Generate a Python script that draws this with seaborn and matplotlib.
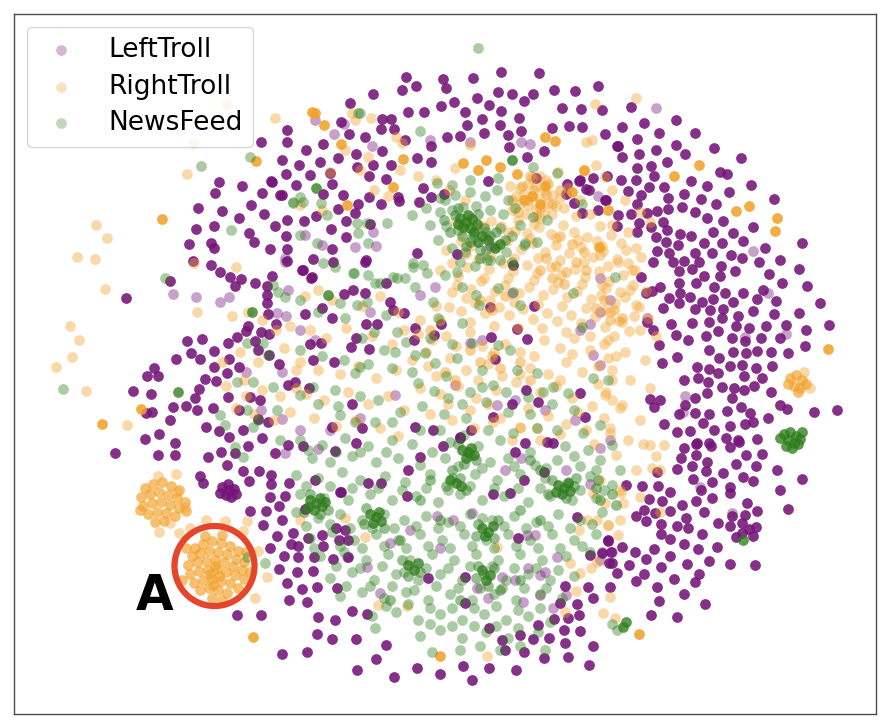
import numpy as np
import matplotlib
matplotlib.use("Agg")
import matplotlib.pyplot as plt
import seaborn as sns
from matplotlib.patches import Circle

# embedding coordinates (x to the right, y downwards)
categories = ["LeftTroll", "RightTroll", "NewsFeed"]

# LeftTroll: dense (stacked duplicates) and sparse points
left_dense = [
    (406,77),(443,79),(473,78),(501,72),(539,73),(416,86),(446,88),(402,90),(373,94),(498,92),(512,94),(533,94),
    (554,90),(575,91),(598,86),(477,98),(454,102),(441,106),(489,105),(524,101),(350,103),(341,122),(408,112),
    (424,112),(465,112),(501,111),(562,108),(581,109),(602,110),(382,119),(391,119),(482,119),(519,118),(467,125),
    (500,125),(552,128),(569,126),(582,127),(287,130),(381,129),(394,129),(349,134),(365,137),(447,137),(460,136),
    (484,133),(508,135),(521,131),(605,134),(287,142),(323,144),(405,140),(431,146),(509,147),(544,151),(617,146),
    (306,150),(356,154),(382,151),(338,158),(417,158),(431,162),(527,157),(282,160),(299,165),(320,162),(357,167),
    (373,165),(391,165),(286,174),(310,175),(330,173),(369,176),(386,179),(488,181),(536,178),(567,184),(579,181),
    (593,178),(607,176),(296,185),(332,184),(423,188),(586,189),(282,195),(323,194),(343,195),(369,197),(398,197),
    (419,202),(431,197),(444,194),(566,194),(574,203),(606,200),(358,204),(381,204),(399,201),(338,209),(355,213),
    (582,213),(287,220),(316,216),(304,221),(346,221),(331,229),(370,224),(286,236),(346,237),(366,260),(332,249),
    (313,259),(287,249),(287,261),(302,270),(311,278),(417,253),(457,254),(261,142),(271,181),
    (631,107),(622,127),(644,123),(676,120),(659,133),(695,133),(637,139),(618,146),(676,145),(714,148),(622,157),
    (639,154),(656,150),(685,154),(741,158),(637,168),(651,166),(667,162),(720,172),(727,174),(580,180),(621,180),
    (636,180),(654,176),(691,181),(589,190),(628,191),(649,187),(664,187),(707,186),(751,185),(605,200),(641,195),
    (668,198),(684,194),(701,199),(729,192),(637,204),(657,211),(668,209),(682,207),(716,204),(774,199),(598,210),
    (618,215),(631,214),(647,213),(695,212),(707,218),(723,221),(753,227),(617,226),(639,223),(651,227),(663,222),
    (637,232),(667,230),(680,234),(691,236),(713,232),(733,233),(743,241),(656,237),(666,242),(678,245),(704,243),
    (722,243),(765,248),(802,243),(657,251),(669,253),(695,253),(712,253),(731,255),(742,258),(759,262),(780,260),
    (799,269),(653,262),(673,262),(684,261),(699,262),(679,271),(692,269),(704,276),(721,266),(735,271),(720,276),
    (769,274),(641,277),
    (652,291),(646,293),(660,287),(679,283),(696,283),(714,287),(725,293),(743,293),(763,290),(782,283),(807,286),
    (669,298),(680,293),(690,297),(702,302),(713,299),(733,302),(757,299),(776,301),(820,303),(663,308),(679,303),
    (695,309),(710,310),(723,309),(738,316),(753,311),(774,314),(799,313),(647,322),(671,324),(692,323),(709,322),
    (722,318),(736,326),(749,328),(766,326),(786,325),(806,330),(829,325),(653,330),(676,335),(688,340),(706,336),
    (718,331),(732,338),(745,341),(761,338),(780,338),(659,345),(709,350),(719,358),(733,352),(746,353),(757,351),
    (771,352),(788,353),(805,346),(662,363),(677,357),(697,367),(709,369),(730,366),(742,365),(756,368),(772,366),
    (684,380),(698,378),(708,382),(718,373),(734,388),(744,376),(754,386),(762,378),(650,399),(660,400),(685,405),
    (695,398),(707,393),(722,387),(732,398),(744,390),(771,392),(780,405),(787,409),(814,412),(837,410),(654,407),
    (679,414),(695,413),(709,414),(727,411),(741,407),(750,413),(664,424),(690,431),(703,423),(714,430),(730,426),
    (745,424),(753,422),(768,418),(677,432),(697,443),(709,443),(726,438),(738,440),(757,439),
    (684,448),(696,444),(711,446),(730,447),(739,442),(681,458),(696,455),(707,462),(736,464),(746,455),(762,454),
    (677,469),(692,466),(706,471),(723,473),(756,466),(777,470),(802,479),(657,472),(693,479),(712,482),(743,477),
    (753,481),(626,485),(642,486),(658,486),(670,492),(701,490),(730,487),(730,493),(780,490),(649,499),(662,501),
    (682,505),(696,501),(712,498),(747,503),(788,509),(644,510),(655,513),(670,511),(704,512),(732,516),(745,515),
    (757,511),(636,516),(646,521),(661,524),(677,526),(688,528),(686,518),(718,523),(730,526),(742,523),(756,527),
    (749,529),(661,534),(670,539),(702,534),(736,537),(742,533),(753,536),(608,540),(622,547),(635,552),(654,549),
    (684,544),(698,549),(717,547),(590,555),(602,553),(611,552),(646,559),(670,556),(609,563),(629,565),(661,567),
    (687,564),(709,561),(730,564),(755,565),(617,573),(644,574),(636,581),(674,579),(699,574),(695,582),(565,586),
    (588,587),(610,587),(657,587),(593,598),(684,594),(560,603),(577,604),(659,601),(705,604),(579,615),(651,615),
    (677,617),(564,630),(580,631),(565,643),(593,646),(568,657),(589,665),
    (289,483),(285,496),(305,509),(282,520),(293,533),(291,544),(308,538),(322,535),(323,546),(336,528),(345,530),
    (339,540),(284,556),(298,557),(314,557),(297,572),(313,571),(287,583),(302,589),(289,600),(307,602),(318,617),
    (335,620),(352,611),(367,614),(317,634),(332,639),(356,639),(386,645),(282,654),(307,652),(376,659),(357,670),
    (394,677),(417,668),(440,674),(463,666),(489,668),(516,670),(472,680),(505,650),(524,652),(544,658),(489,628),
    (520,635),(533,639),(549,638),(502,640),(554,619),(538,625),(568,618),(465,603),(608,541),(612,563),(577,517),
    (428,578),(368,483),(381,483),(341,492),(356,443),(335,451),(303,446),(288,445),(407,496),(415,427),(433,430),
    (443,446),(420,457),(408,470),(460,438),(493,494),(510,493),(515,452),(525,443),(544,472),(524,480),(547,442),
    (553,443),(471,430),(465,577),(518,538),
    (200,476),(203,483),(227,465),(243,471),(259,471),(271,475),(271,484),(249,481),(250,511),(266,511),(270,497),
    (279,506),(263,525),(277,536),(270,548),(333,559),(348,557),(279,569),(317,587),(337,588),(237,615),(261,615),
    (298,546),(348,540),(340,492),(315,480),
    (222,487),(228,484),(234,489),(226,495),(231,497),(220,493),(236,494),(229,490),
    (219,182),(242,186),(215,193),(272,182),(262,193),(280,195),(198,208),(222,211),(251,205),(264,214),(239,218),
    (196,229),(214,226),(249,233),(275,226),(189,244),(211,243),(254,242),(214,248),(270,249),(193,261),(211,265),
    (220,272),(230,277),(241,279),(235,286),(255,283),(272,276),(126,298),(170,281),(267,286),(267,295),(267,303),
    (268,314),(276,324),(248,326),(261,332),(269,334),(246,331),(255,341),(237,337),(228,343),(187,341),(202,339),
    (191,353),(214,351),(200,359),(176,359),(229,359),(239,367),(258,350),(269,355),(279,364),(154,368),(147,376),
    (158,376),(214,367),(216,381),(227,373),(205,379),(133,391),(151,394),(199,389),(195,398),(186,406),(197,410),
    (213,408),(228,397),(239,410),(250,397),(260,400),(146,413),(152,412),(173,407),(170,420),(206,427),(219,431),
    (229,437),(243,430),(258,419),(268,422),(145,439),(159,434),(175,443),(248,446),(262,438),(115,453),(158,455),
    (175,455),(208,457),(221,452),(235,453),(275,453),
    (312,277),(303,270),(333,262),(365,262),(344,294),(353,290),(365,293),(322,308),(305,314),(332,318),(366,324),
    (377,324),(404,313),(390,302),(310,344),(321,343),(351,347),(369,349),(356,338),(334,362),(313,360),(288,385),
    (295,382),(309,388),(352,404),(362,428),(332,427),(415,328),(414,340),(441,324),(491,337),(495,359),(490,307),
    (517,329),(527,339),(534,306),(526,390),(512,404),(580,393),(585,417),(538,402),(493,417),(460,437),(434,335),
    (386,283),(393,310),(513,265),
]
left_sparse = [
    (285,453),(318,449),(347,557),(367,567),(380,593),(390,543),(453,520),(472,513),(527,535),(535,535),(557,557),
    (540,575),(545,572),(502,577),(515,580),(488,598),(477,588),(528,568),(523,602),(540,595),(553,608),(566,595),
    (602,552),(612,552),(300,330),(315,340),(370,312),(420,295),(435,287),(470,343),(482,340),(512,293),(580,330),
    (590,324),(600,312),(610,300),(593,355),(600,365),(575,420),(545,410),(515,400),(497,405),(455,385),(395,395),
    (360,418),(330,430),(300,430),(282,372),(600,448),(610,440),(315,120),(334,134),(344,124),(372,146),(430,140),
    (470,142),(521,142),(530,144),(598,196),(305,235),(322,245),(373,232),(376,246),(285,258),(355,247),(490,246),
    (600,278),(173,294),(196,297),(229,297),(220,302),(285,262),(288,290),(277,313),(286,316),(246,372),(261,410),
    (282,419),(656,108),(753,251),(647,318),(685,396),(683,412),(745,337),(786,334),(768,293),(600,560),(700,487),
    (732,513),(566,470),(521,458),(437,516),(410,530),(440,548),(505,470),(590,484),
]

# RightTroll: single saturated points, two tight clusters, mid-density patches, sparse cloud
right_dense = [
    (312,112),(256,161),(162,219),(102,424),(141,409),(253,637),(699,165),(674,176),(736,211),(749,206),(777,218),
    (775,231),(828,349),(639,634),(315,113),(324,125),(341,144),(403,159),(463,163),(486,160),(478,170),(500,167),
    (517,174),(545,137),(555,141),(584,170),(599,247),(545,186),(572,192),(608,210),(347,205),(393,187),(440,656),
    (532,196),(540,204),(524,200),
]
right_clusters = [
    # cluster A
    (195,548),(203,544),(212,541),(221,543),(230,546),(238,551),(192,556),(200,553),(209,551),(218,552),(227,554),
    (236,559),(244,562),(188,565),(197,562),(206,561),(215,560),(224,562),(233,566),(242,570),(190,574),(199,571),
    (208,570),(217,569),(226,572),(235,575),(244,579),(194,583),(203,580),(212,579),(221,581),(230,583),(238,588),
    (200,590),(209,588),(218,590),(227,593),(212,598),(222,600),(186,548),(246,552),(182,580),(250,572),(205,536),
    (222,535),(215,566),(210,574),(219,576),(213,585),
    # cluster B
    (145,488),(153,484),(162,482),(171,486),(179,490),(141,497),(150,494),(159,492),(168,495),(177,498),(185,502),
    (143,506),(152,503),(161,502),(170,505),(179,508),(148,514),(157,512),(166,513),(175,516),(155,522),(164,521),
    (140,510),(186,511),
    # small right cluster
    (790,378),(796,375),(802,380),(794,386),(800,388),(806,384),(788,384),(798,392),
]
right_mid = [
    (522,186),(534,190),(546,194),(528,200),(540,208),(518,212),(552,204),(536,216),(548,184),(560,190),(530,176),
    (512,200),(546,258),(556,266),(566,272),(552,278),(564,284),(576,262),(586,270),(540,270),(604,300),(614,310),
    (622,318),(610,320),(596,308),(470,350),(480,362),(492,356),(500,368),(520,362),(530,380),(445,372),(455,380),
    (430,330),(440,320),(560,236),(572,244),(584,252),(480,300),(492,310),(505,296),
]
right_sparse = [
    # dense patch upper centre
    (520,188),(528,184),(536,186),(544,190),(552,195),(516,196),(524,194),(532,196),(540,199),(548,203),(556,206),
    (520,204),(528,205),(536,209),(544,212),(512,210),(526,214),(540,218),(552,214),(560,198),(532,178),(546,180),
    (510,186),(518,220),(534,224),
    # large cloud
    (455,222),(468,217),(477,228),(491,221),(501,226),(515,231),(527,233),(539,227),(551,234),(563,225),(574,232),
    (587,237),(597,241),(611,235),(621,243),(636,248),(461,241),(471,246),(485,237),(497,247),(507,241),(521,249),
    (533,243),(545,252),(556,245),(569,253),(581,247),(593,257),(603,251),(617,259),(628,263),(641,257),(452,263),
    (467,267),(478,259),(489,269),(503,263),(513,271),(527,265),(537,273),(551,267),(561,275),(575,269),(585,277),
    (599,271),(609,281),(623,275),(633,285),(646,291),(457,285),(471,289),(481,281),(495,291),(505,285),(519,293),
    (529,287),(543,295),(553,289),(567,297),(577,291),(591,299),(601,295),(615,303),(625,297),(639,307),(449,307),
    (461,311),(475,303),(485,313),(499,307),(509,315),(523,309),(533,319),(547,313),(557,321),(571,315),(581,323),
    (595,317),(605,327),(619,321),(629,331),(648,318),(656,336),
    (462,230),(484,226),(508,232),(530,238),(556,238),(578,240),(602,246),(626,250),(466,254),(490,256),(514,258),
    (538,258),(560,260),(584,262),(608,266),(632,270),(458,276),(484,278),(508,278),(534,280),(558,282),(582,284),
    (606,288),(630,290),(466,298),(490,300),(514,302),(538,304),(562,306),(586,308),(610,312),(634,316),(470,322),
    (494,326),(518,328),(542,328),(566,332),(590,336),(614,336),(426,352),(456,346),(494,352),(534,356),(572,354),
    (608,358),(436,376),(478,380),(520,374),(560,380),(598,384),(448,404),(488,404),(528,408),(578,412),(612,400),
    (512,440),(474,428),(560,434),(594,444),(420,320),(436,306),(452,292),(440,270),(446,250),(540,176),(558,172),
    (568,188),(580,200),(590,214),(600,226),(576,216),(564,208),
    (418,334),(432,340),(446,336),(470,332),(482,346),(505,344),(520,352),(544,340),(560,348),(574,338),(590,350),
    (604,344),(616,356),(412,360),(428,366),(450,358),(466,370),(488,364),(502,376),(530,368),(548,374),(566,362),
    (582,372),(598,366),(612,380),(420,388),(440,394),(458,386),(476,398),(496,390),(516,382),(540,392),(556,386),
    (572,398),(592,406),(606,392),(430,414),(452,420),(470,410),(500,418),(520,428),(548,416),(566,424),(586,430),
    (604,418),(620,408),(540,440),
    # left-centre
    (305,296),(318,290),(332,300),(362,306),(380,296),(398,312),(310,330),(326,338),(346,328),(372,336),(392,344),
    (404,330),(300,362),(318,370),(340,374),(358,366),(376,378),(396,370),(306,394),(324,400),(348,392),(368,404),
    (388,396),(404,410),(314,418),(336,426),(356,420),(380,428),(398,436),(232,316),(248,312),(262,320),(276,330),
    (290,326),(240,352),(258,362),(284,348),(296,370),(226,386),(244,380),(262,390),(280,396),(296,388),(236,408),
    (254,414),(274,420),(290,412),(222,362),(246,396),
    # upper scattered
    (355,120),(371,118),(396,137),(402,143),(345,150),(368,157),(360,170),(400,170),(418,176),(436,180),(449,190),
    (465,200),(374,190),(388,196),(330,172),(470,145),(455,168),(300,205),(322,210),(275,118),(226,104),(193,143),
    (187,174),(595,104),(636,98),(352,113),
    # right fringe
    (586,142),(592,140),(584,171),(596,165),(605,177),(612,190),(625,200),(640,212),(650,222),(612,225),(628,232),
    (600,255),(618,262),(635,270),(602,285),(620,292),(636,305),(605,310),(622,322),(640,330),(608,340),(625,352),
    (645,360),(612,370),(630,380),(650,388),(605,395),(622,405),(640,420),(610,428),(628,440),(650,445),(616,455),
    (636,470),(660,470),(600,480),(620,490),(640,497),(660,512),(620,520),(643,444),(664,445),(656,456),(652,468),
    (621,493),(623,503),(608,525),(618,535),(591,568),(610,597),(603,613),(615,618),(565,612),(576,591),(579,530),
    (804,372),(810,388),
    # around the clusters
    (206,520),(225,521),(247,521),(243,531),(258,551),(267,577),(190,528),(255,598),(158,476),(176,474),(159,532),
    (179,533),(170,523),(185,507),(177,492),
    # far left and lower scattered
    (96,225),(107,238),(77,257),(95,259),(105,289),(70,326),(79,340),(72,357),(56,367),(86,391),(127,425),(197,312),
    (194,263),(236,267),(345,518),(365,537),(407,606),(497,547),(570,563),(580,573),(597,562),(608,525),(597,520),
    (605,503),(587,520),(593,493),(610,433),(537,428),(520,427),(493,422),(487,656),(378,605),(300,520),
]

# NewsFeed
news_dense = [
    (460,218),(466,222),(472,219),(463,227),(470,228),(477,224),(458,224),(474,232),(482,236),(488,240),(478,242),
    (495,248),(500,244),(468,215),(310,500),(316,503),(322,506),(314,510),(320,498),(308,507),(325,502),(370,514),
    (376,517),(381,521),(373,523),(379,512),(462,450),(468,452),(474,455),(466,458),(471,448),(450,480),(456,483),
    (461,486),(558,485),(564,488),(570,491),(562,494),(568,483),(556,492),(482,528),(488,532),(493,526),(485,536),
    (482,570),(490,575),(486,580),(408,565),(414,570),(418,563),(784,434),(790,432),(796,436),(788,440),(794,443),
    (800,439),(786,446),(792,448),(798,444),(780,438),(802,432),(178,392),(252,312),(623,627),(512,160),(316,188),
    (328,295),(743,540),(626,622),
]
news_mid = [
    (455,215),(462,236),(478,214),(484,228),(490,236),(470,242),(458,208),(444,220),(450,232),(496,232),(505,240),
    (466,246),(480,258),(486,250),(310,494),(304,512),(320,514),(328,510),(366,508),(384,528),(364,524),(458,444),
    (476,460),(464,464),(452,470),(446,486),(460,478),(466,490),(552,480),(574,486),(566,498),(576,478),(548,494),
    (478,524),(494,538),(476,536),(498,520),(478,566),(494,568),(488,586),(476,578),(402,560),(420,572),(408,576),
    (530,460),(540,470),(430,480),(440,520),(520,510),(540,520),(420,500),(500,590),(460,600),(520,580),(400,540),
    (390,600),(600,500),(612,494),(596,488),(616,505),(598,480),
]
news_sparse = [
    (478,48),(201,166),(250,157),(165,278),(63,389),(557,173),(533,167),(358,113),(420,131),(300,197),(293,203),
    (321,203),(327,215),(357,223),(367,223),(387,223),(358,233),(368,243),(300,235),(317,243),(323,263),(335,267),
    (353,273),(380,283),(397,278),(413,263),(427,273),(412,215),(426,208),(440,198),(452,185),(437,183),(473,233),
    (487,260),(500,260),(513,265),(525,243),(537,242),(533,217),(547,220),(573,293),(582,204),(615,277),(360,113),
    (445,200),(455,195),(470,192),(485,196),(497,190),(508,200),(440,212),(452,210),(463,207),(476,206),(490,210),
    (503,214),(515,208),(446,226),(458,230),(472,238),(486,232),(500,228),(512,236),(452,248),(465,252),(480,250),
    (494,246),(506,252),(460,262),(475,266),(490,260),(438,240),(430,225),(520,225),(524,245),(470,180),(498,178),
    (512,262),
    (340,303),(357,305),(367,302),(386,315),(374,332),(397,332),(395,352),(415,355),(425,353),(435,363),(418,383),
    (434,391),(448,398),(470,392),(482,387),(493,385),(517,370),(537,373),(543,392),(553,387),(568,393),(582,327),
    (593,378),(608,380),(300,395),(313,387),(335,390),(355,373),(340,415),(355,422),(375,422),(392,422),(420,430),
    (440,430),(464,435),(488,430),(513,433),(537,428),(557,430),(583,433),(600,425),(498,288),(513,292),(520,305),
    (433,302),(438,318),(415,287),(462,287),(476,295),(479,305),(462,323),(472,343),(498,345),(510,350),(457,358),
    (482,370),(528,397),(360,367),(368,275),(354,273),(375,283),(393,277),(405,278),(445,275),(457,272),(413,267),
    (423,265),(273,285),(278,292),(285,297),(237,382),(253,382),(273,387),(247,410),(258,420),(277,410),(253,427),
    (280,440),(243,457),(220,415),(225,425),(235,447),(268,355),(247,343),(263,343),(231,230),(293,202),(303,202),
    (300,300),(318,312),(345,318),(362,338),(384,350),(406,342),(430,338),(452,344),(300,350),(322,356),(344,360),
    (368,364),(392,368),(412,372),(446,376),(462,404),(486,402),(506,392),(318,404),(338,406),(360,396),(378,400),
    (400,412),(422,406),(444,414),(466,418),(508,412),(530,414),(552,404),(574,410),
    (300,440),(322,445),(345,438),(368,446),(392,440),(412,444),(450,442),(478,446),(500,440),(530,452),(565,446),
    (588,450),(612,445),(312,458),(330,462),(352,456),(376,462),(398,458),(420,465),(445,458),(470,455),(490,462),
    (508,458),(535,465),(557,460),(580,466),(600,460),(620,470),(296,475),(318,478),(342,472),(360,480),(385,476),
    (405,482),(430,474),(452,478),(475,474),(497,480),(520,474),(545,478),(568,482),(590,476),(612,485),(300,494),
    (324,498),(348,500),(370,494),(392,500),(416,496),(438,502),(460,494),(482,500),(504,496),(528,502),(550,496),
    (572,500),(596,498),(296,512),(318,518),(340,514),(362,520),(384,514),(404,520),(426,516),(448,522),(470,514),
    (492,520),(514,516),(536,522),(558,514),(580,520),(602,512),(310,538),(332,532),(354,540),(376,534),(398,540),
    (420,534),(442,540),(464,534),(486,540),(508,534),(530,540),(552,534),(574,540),(596,534),(320,556),(344,552),
    (366,560),(388,554),(410,560),(432,554),(454,560),(476,554),(498,560),(520,554),(542,560),(566,556),(590,552),
    (330,578),(352,572),(374,580),(396,574),(418,580),(440,574),(462,580),(484,574),(506,580),(528,574),(550,580),
    (574,576),(340,596),(362,592),(384,598),(406,592),(428,600),(450,594),(472,600),(494,594),(516,600),(540,594),
    (562,598),(372,616),(396,612),(418,620),(440,614),(462,620),(484,614),(506,620),(528,616),(550,622),(420,636),
    (440,630),(462,638),(486,632),(508,638),(538,632),(375,628),(432,652),(460,650),(545,650),(265,563),(247,557),
    (617,630),(612,624),
    (308,450),(336,452),(360,452),(386,452),(432,452),(458,466),(482,468),(514,466),(546,468),(574,456),(596,470),
    (306,486),(330,486),(352,488),(378,488),(402,490),(426,488),(448,490),(470,486),(494,488),(518,488),(540,488),
    (580,490),(604,490),(306,526),(330,524),(350,528),(372,528),(394,528),(416,526),(438,528),(460,526),(482,518),
    (504,526),(526,528),(548,526),(570,528),(592,524),(314,548),(340,546),(362,548),(384,546),(406,548),(428,546),
    (450,548),(472,546),(494,548),(516,546),(538,548),(560,548),(582,546),(336,566),(360,568),(382,566),(404,572),
    (426,568),(448,568),(470,566),(492,566),(514,568),(536,568),(558,570),(346,586),(370,586),(392,586),(414,590),
    (436,586),(458,588),(480,588),(502,588),(524,588),(546,588),(386,606),(408,604),(430,608),(452,608),(474,608),
    (496,606),(518,610),(540,608),(430,624),(452,626),(474,626),(496,626),(518,628),(480,646),(500,650),(520,646),
]

colors = {"LeftTroll": "#741478", "RightTroll": "#f2a22c", "NewsFeed": "#2f7d1e"}
layers = {
    "LeftTroll": [(left_dense, 0.88)],
    "RightTroll": [(right_dense, 0.88), (right_clusters, 0.68), (right_mid, 0.5)],
    "NewsFeed": [(news_dense, 0.78), (news_mid, 0.5)],
}
sparse = {"LeftTroll": left_sparse, "RightTroll": right_sparse, "NewsFeed": news_sparse}

sns.set_style("white")
plt.rcParams["text.color"] = "black"
fig, ax = plt.subplots(figsize=(8.9, 7.28), dpi=100)
fig.subplots_adjust(left=14/890, right=876/890, bottom=14/728, top=714/728)

for name in categories:
    for pts, a in layers[name]:
        px, py = zip(*pts)
        sns.scatterplot(x=list(px), y=list(py), ax=ax, color=colors[name], alpha=a,
                        s=60, linewidth=0, legend=False)
    sx, sy = zip(*sparse[name])
    sns.scatterplot(x=list(sx), y=list(sy), ax=ax, color=colors[name], alpha=0.4,
                    s=60, linewidth=0, label=name)

ax.set_xlim(14, 876)
ax.set_ylim(714, 14)
ax.set_xticks([])
ax.set_yticks([])
for sp in ax.spines.values():
    sp.set_color("0.3")
    sp.set_linewidth(1.0)

# highlight of cluster A
ax.add_patch(Circle((214.5, 566), 40, fill=False, edgecolor="#e5452a", linewidth=4.5, zorder=5))
ax.text(155, 596, "A", fontsize=35, fontweight="bold", color="black",
        ha="center", va="center", zorder=6)

leg = ax.legend(loc="upper left", fontsize=19, labelspacing=0.4, handlelength=1.8,
                handletextpad=0.9, borderpad=0.4, borderaxespad=0.48)
for t in leg.get_texts():
    t.set_color("black")
for h in leg.legend_handles:
    h.set_alpha(0.3)

fig.savefig("out.png", dpi=100)
